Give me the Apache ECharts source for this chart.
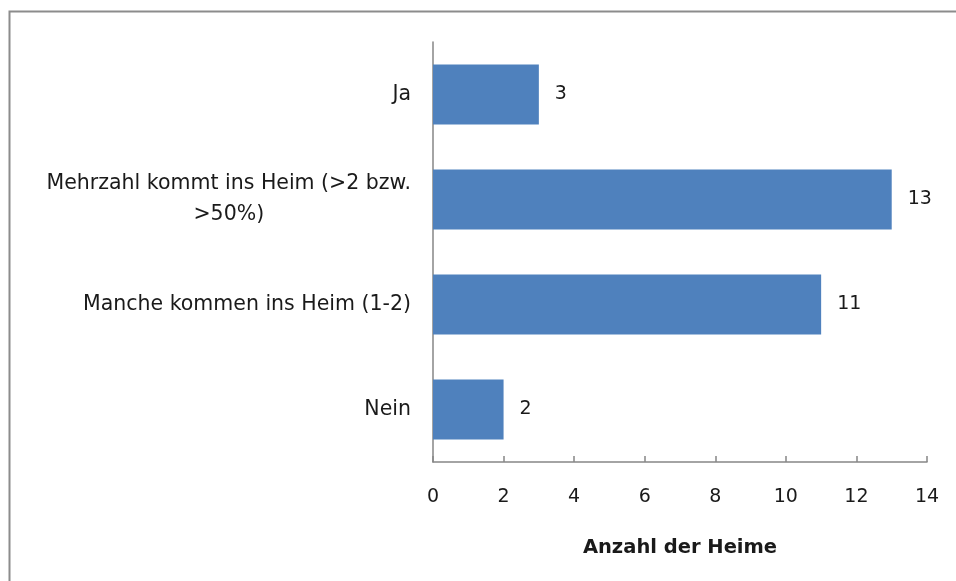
<!DOCTYPE html>
<html><head><meta charset="utf-8">
<script src="https://cdn.jsdelivr.net/npm/echarts@6/dist/echarts.min.js"></script>
<style>html,body{margin:0;padding:0;background:#fff}#c{width:956px;height:581px}</style>
</head><body><div id="c"></div>
<script>
const categories = ['Ja', 'Mehrzahl kommt ins Heim (>2 bzw. >50%)', 'Manche kommen ins Heim (1-2)', 'Nein'];
const values = [3, 13, 11, 2];
const xTicks = [0, 2, 4, 6, 8, 10, 12, 14];
const axisName = 'Anzahl der Heime';

const FONT = 'DejaVu Sans';
const TXT = '#1a1a1a';
const chart = echarts.init(document.getElementById('c'), null, {renderer: 'canvas'});
chart.setOption({
  animation: false,
  backgroundColor: '#fff',
  graphic: [{type: 'rect', shape: {x: 9.5, y: 11.5, width: 1000, height: 1000}, style: {fill: 'none', stroke: '#8c8c8c', lineWidth: 2}, silent: true}],
  grid: {left: 433, right: 29, top: 42, bottom: 119},
  xAxis: {
    type: 'value', min: xTicks[0], max: xTicks[xTicks.length - 1], interval: 2,
    name: axisName, nameLocation: 'middle', nameGap: 76,
    nameTextStyle: {fontFamily: FONT, fontSize: 19.5, fontWeight: 'bold', color: TXT},
    axisLine: {show: true, lineStyle: {color: '#868686', width: 1.5}},
    axisTick: {show: true, inside: true, length: 6, lineStyle: {color: '#868686', width: 1.5}},
    axisLabel: {fontFamily: FONT, fontSize: 19, color: TXT, margin: 26},
    splitLine: {show: false}
  },
  yAxis: {
    type: 'category', data: categories, inverse: true,
    axisLine: {show: true, lineStyle: {color: '#868686', width: 1.5}},
    axisTick: {show: false},
    axisLabel: {
      fontFamily: FONT, fontSize: 20.5, color: TXT, margin: 22,
      formatter: v => v.indexOf('Mehrzahl') === 0 ? '{c|Mehrzahl kommt ins Heim (>2 bzw.}\n{c|>50%)}' : v,
      rich: {c: {fontFamily: FONT, fontSize: 20.5, color: TXT, align: 'center', lineHeight: 31}}
    }
  },
  series: [{
    type: 'bar', data: values, barWidth: 60,
    itemStyle: {color: '#4F81BD'},
    label: {show: true, position: 'right', distance: 16, fontFamily: FONT, fontSize: 19, color: TXT}
  }]
});
</script></body></html>
